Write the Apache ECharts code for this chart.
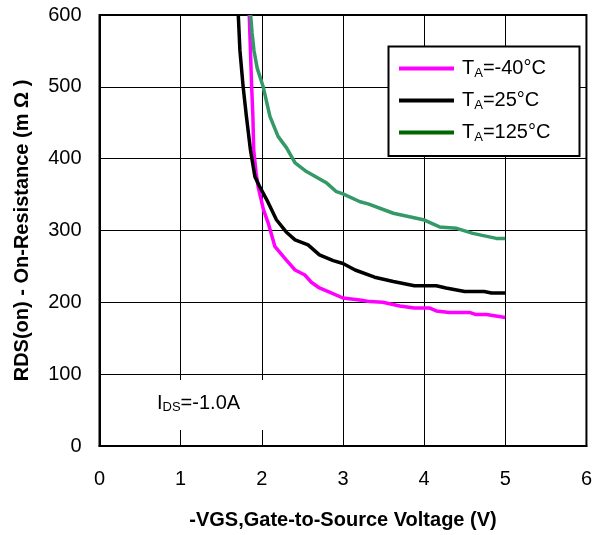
<!DOCTYPE html>
<html>
<head>
<meta charset="utf-8">
<script src="https://cdn.jsdelivr.net/npm/echarts@6/dist/echarts.min.js"></script>
<style>html,body{margin:0;padding:0;background:#fff}#c{width:595px;height:535px}</style>
</head>
<body>
<div id="c"></div>
<script>
// Series data: [-VGS (V), RDS(on) (mΩ)]
const dataM40 = [[1.845,600],[1.86,551],[1.875,500],[1.89,459],[1.90,412],[1.93,380],[1.956,360],[1.998,340],[2.02,329],[2.08,310],[2.16,278],[2.30,259],[2.41,245],[2.53,238],[2.61,228],[2.71,220],[2.84,214],[3.0,206],[3.23,203],[3.33,201],[3.49,200],[3.70,195],[3.88,192],[4.07,192],[4.15,188],[4.31,186],[4.56,186],[4.64,183],[4.77,183],[5.0,179]];
const data25 = [[1.71,600],[1.73,551],[1.77,500],[1.81,459],[1.86,412],[1.915,375],[1.97,362],[2.06,343],[2.18,315],[2.30,298],[2.41,287],[2.57,280],[2.71,266],[2.88,258],[3.0,254],[3.15,245],[3.39,235],[3.62,229],[3.88,223],[4.15,223],[4.27,220],[4.50,215],[4.74,215],[4.83,213],[5.0,213]];
const data125 = [[1.862,600],[1.88,575],[1.903,551],[1.943,526],[2.017,500],[2.10,459],[2.20,431],[2.305,415],[2.41,394],[2.55,382],[2.80,366],[2.92,354],[3.0,351],[3.21,340],[3.31,337],[3.62,324],[3.99,315],[4.19,305],[4.40,303],[4.60,296],[4.89,289],[5.0,289]];
const seriesNames = ['-40', '25', '125'];
const xTicks = [0,1,2,3,4,5,6];
const yTicks = [0,100,200,300,400,500,600];

const chart = echarts.init(document.getElementById('c'), null, {renderer:'canvas'});
const FONT = 'Arial, "Liberation Sans", sans-serif';
const lineColors = ['#ff00ff', '#000000', '#339966'];
const legendColors = ['#ff00ff', '#000000', '#006600'];
const datas = [dataM40, data25, data125];

chart.setOption({
  animation: false,
  backgroundColor: '#fff',
  grid: {left: 99.5, top: 15, right: 8, bottom: 89, show: true, borderColor: '#000', borderWidth: 2, backgroundColor: 'transparent'},
  xAxis: {
    type: 'value', min: xTicks[0], max: xTicks[xTicks.length-1], interval: 1,
    name: '-VGS,Gate-to-Source Voltage (V)', nameLocation: 'middle', nameGap: 64,
    nameTextStyle: {fontFamily: FONT, fontSize: 20, fontWeight: 'bold', color: '#000'},
    axisLine: {show: true, lineStyle: {color: '#000', width: 2}},
    axisTick: {show: false},
    axisLabel: {fontFamily: FONT, fontSize: 20, color: '#000', margin: 23},
    splitLine: {show: true, lineStyle: {color: '#000', width: 1}}
  },
  yAxis: {
    type: 'value', min: yTicks[0], max: yTicks[yTicks.length-1], interval: 100,
    name: 'RDS(on) - On-Resistance (m Ω )', nameLocation: 'middle', nameGap: 67,
    nameTextStyle: {fontFamily: FONT, fontSize: 20, fontWeight: 'bold', color: '#000'},
    axisLine: {show: true, lineStyle: {color: '#000', width: 2}},
    axisTick: {show: false},
    axisLabel: {fontFamily: FONT, fontSize: 20, color: '#000', margin: 18},
    splitLine: {show: true, lineStyle: {color: '#000', width: 1}}
  },
  legend: {
    z: 10,
    orient: 'vertical', left: 399, top: 57.5, padding: 0,
    itemWidth: 55, itemHeight: 4, itemGap: 10,
    data: seriesNames.map((n, i) => ({name: n, icon: 'rect', itemStyle: {color: legendColors[i], borderWidth: 0}})),
    formatter: n => '{t|T}{s|A}{t|=' + n + '°C}',
    textStyle: {
      fontFamily: FONT, color: '#000', padding: [0,0,0,3],
      rich: {
        t: {fontFamily: FONT, fontSize: 20, color: '#000', lineHeight: 20},
        s: {fontFamily: FONT, fontSize: 13, color: '#000', lineHeight: 20, padding: [9,0,0,0]}
      }
    }
  },
  graphic: [
    {type: 'rect', z: 3, shape: {x: 388.5, y: 46.5, width: 191, height: 109.5}, style: {fill: '#fff', stroke: '#000', lineWidth: 2}},
    {type: 'rect', z: 3, shape: {x: 101, y: 380, width: 169, height: 50}, style: {fill: '#fff', stroke: null}},
    {type: 'text', z: 10, left: 157, top: 392, style: {
      text: '{t|I}{s|DS}{t|=-1.0A}',
      rich: {
        t: {fontFamily: FONT, fontSize: 20, fill: '#000', lineHeight: 22},
        s: {fontFamily: FONT, fontSize: 13, fill: '#000', lineHeight: 22, padding: [9,0,0,0]}
      }
    }}
  ],
  series: seriesNames.map((n, i) => ({
    name: n, type: 'line', data: datas[i], symbol: 'none', smooth: false,
    lineStyle: {color: lineColors[i], width: 3.5}, itemStyle: {color: lineColors[i]},
    z: 2
  }))
});
</script>
</body>
</html>
